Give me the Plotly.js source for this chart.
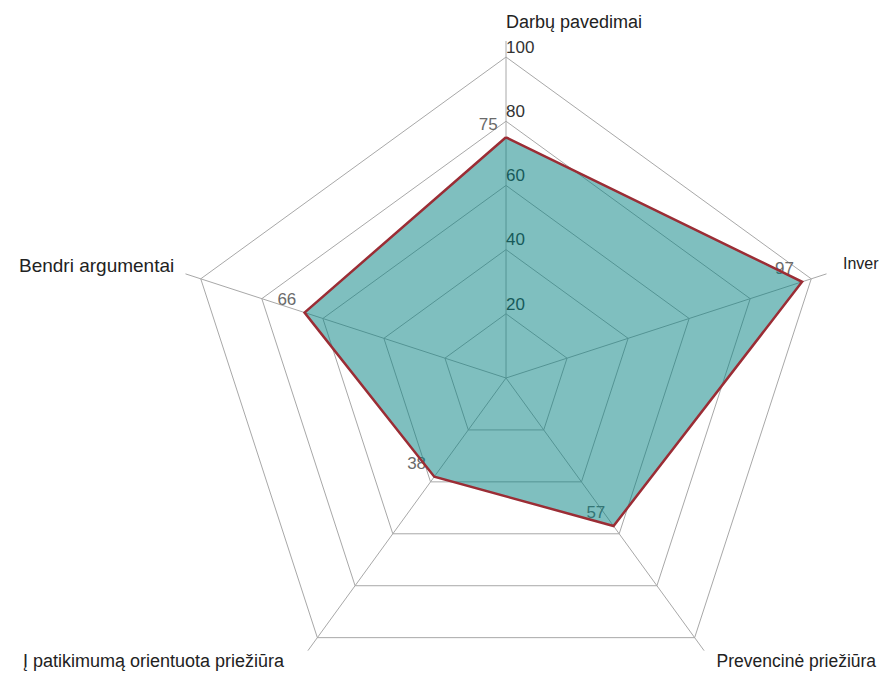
<!DOCTYPE html>
<html>
<head>
<meta charset="utf-8">
<script src="https://cdn.plot.ly/plotly-3.0.1.min.js"></script>
<style>
  html, body { margin: 0; padding: 0; overflow: hidden; background: #fff; }
  #chart { width: 881px; height: 760px; }
</style>
</head>
<body>
<div id="chart"></div>
<script>
// Categories, clockwise from the top
const categories = [
  "Darbų pavedimai",
  "Inver",
  "Prevencinė priežiūra",
  "Į patikimumą orientuota priežiūra",
  "Bendri argumentai"
];
const values = [75, 97, 57, 38, 66];
const radialTicks = [20, 40, 60, 80, 100];
const radialTickText = ["20", "40", "60", "80", "100"];

// ---- layout helpers ----
const W = 881, H = 760;
const cx = 506, cy = 378;          // centre of the web, px
const rMax = 105;                  // spokes run a little past the 100 ring
const pxPerUnit = 337 / rMax;
const labelRange = 113;            // outer scale used only for the category names
// category names sit just outside the web (angles clockwise from the top)
const labelAngle = [0, 71.5, 143.5, 218, 288.5];
const labelR = [110.5, 110.7, 110.3, 112.3, 109];
const labelPos = ["middle right", "middle right", "middle right", "middle left", "middle left"];
const labelSize = [18, 16, 17.5, 18, 19];

const font = "Liberation Sans, Arial, sans-serif";

function domainFor(rad) {
  const R = rad * pxPerUnit;
  return {
    x: [(cx - R) / W, (cx + R) / W],
    y: [(H - cy - R) / H, (H - cy + R) / H]
  };
}

const closedTheta = categories.concat([categories[0]]);
const closedR = values.concat([values[0]]);

const traces = [
  // radial scale labels along the top spoke
  {
    type: "scatterpolar", mode: "text",
    theta: radialTicks.map(() => categories[0]),
    r: radialTicks,
    text: radialTickText,
    textposition: "top right",
    textfont: { family: font, size: 17, color: "#333333" },
    cliponaxis: false, hoverinfo: "skip", showlegend: false
  },
  // value labels next to the vertices
  {
    type: "scatterpolar", mode: "markers+text",
    theta: categories,
    r: values,
    text: values.map(v => String(v) + "\u00a0"),
    textposition: "top left",
    marker: { size: 4, color: "rgba(0,0,0,0)" },
    textfont: { family: font, size: 17, color: "#6a6a6a" },
    cliponaxis: false, hoverinfo: "skip", showlegend: false
  },
  // the filled area
  {
    type: "scatterpolar", mode: "lines",
    theta: closedTheta,
    r: closedR,
    fill: "toself",
    fillcolor: "rgba(0,128,128,0.5)",
    line: { color: "#9b2d35", width: 2.5 },
    cliponaxis: false, hoverinfo: "skip", showlegend: false
  },
  // category names
  {
    type: "scatterpolar", mode: "text", subplot: "polar2",
    theta: labelAngle,
    r: labelR,
    text: categories,
    textposition: labelPos,
    textfont: { family: font, size: labelSize, color: "#222222" },
    cliponaxis: false, hoverinfo: "skip", showlegend: false
  }
];

const hiddenRadial = {
  range: [0, labelRange], showgrid: false, showline: false,
  showticklabels: false, ticks: ""
};
const hiddenAngular = {
  type: "linear", thetaunit: "degrees", rotation: 90, direction: "clockwise",
  showgrid: false, showline: false, showticklabels: false, ticks: ""
};

const layout = {
  width: W, height: H,
  margin: { l: 0, r: 0, t: 0, b: 0, pad: 0 },
  paper_bgcolor: "#ffffff",
  showlegend: false,
  polar: {
    bgcolor: "rgba(0,0,0,0)",
    gridshape: "linear",
    domain: domainFor(rMax),
    radialaxis: {
      range: [0, rMax],
      tickvals: radialTicks,
      showticklabels: false,
      ticks: "",
      showline: false,
      showgrid: true,
      gridcolor: "#a8a8a8",
      gridwidth: 1,
      angle: 90
    },
    angularaxis: {
      type: "category",
      categoryarray: categories,
      rotation: 90,
      direction: "clockwise",
      showticklabels: false,
      ticks: "",
      showline: false,
      showgrid: true,
      gridcolor: "#a8a8a8",
      gridwidth: 1
    }
  },
  polar2: {
    bgcolor: "rgba(0,0,0,0)",
    domain: domainFor(labelRange),
    radialaxis: hiddenRadial,
    angularaxis: hiddenAngular
  }
};

Plotly.newPlot("chart", traces, layout, { staticPlot: true, displayModeBar: false });
</script>
</body>
</html>
